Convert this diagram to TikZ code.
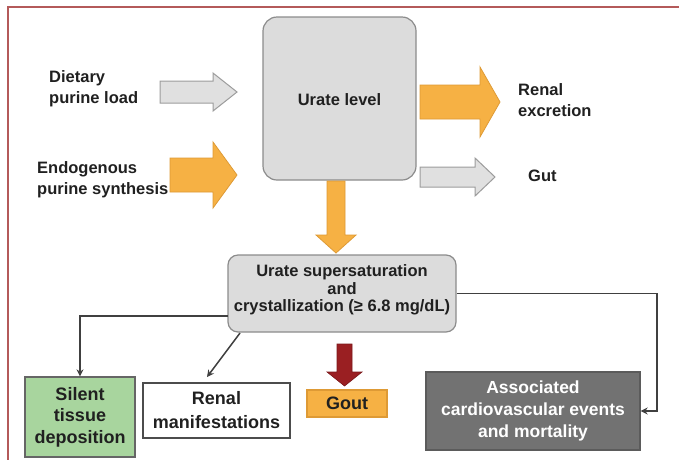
\documentclass[tikz,border=0pt]{standalone}
\usepackage{fontspec}
\setmainfont{Liberation Sans}
\usetikzlibrary{arrows.meta}
\definecolor{orangef}{HTML}{F6B144}
\definecolor{oranged}{HTML}{DE9A35}
\definecolor{grayf}{HTML}{E0E0E0}
\definecolor{grayd}{HTML}{9C9C9C}
\definecolor{boxf}{HTML}{DCDCDC}
\definecolor{boxd}{HTML}{8C8C8C}
\definecolor{greenf}{HTML}{A8D59E}
\definecolor{assocf}{HTML}{727272}
\definecolor{redf}{HTML}{9A1F22}
\definecolor{framec}{HTML}{B45A5A}
\definecolor{conncol}{HTML}{404040}
\definecolor{txt}{HTML}{202020}
\tikzset{
  lbl/.style={font=\bfseries\fontsize{16.5}{21}\selectfont, text=txt, align=left, inner sep=0pt},
  bigbox/.style={draw=boxd, fill=boxf, line width=1.2pt, inner sep=0pt},
  botbox/.style={font=\bfseries\fontsize{18}{21.5}\selectfont, text=txt, align=center, inner sep=0pt, line width=1.3pt},
  conn/.style={draw=conncol, line width=1.5pt, -{Stealth[length=7pt,width=7pt]}},
  orangearrow/.style={fill=orangef, draw=oranged, line width=0.8pt},
  grayarrow/.style={fill=grayf, draw=grayd, line width=1pt},
  redarrow/.style={fill=redf, draw=redf!80!black, line width=0.6pt}
}
% right-pointing block arrow: x0 x1 x2 yc halfshaft halfhead
\newcommand{\rblock}[7]{\filldraw[#1] (#2,#5-#6) -- (#3,#5-#6) -- (#3,#5-#7) -- (#4,#5) -- (#3,#5+#7) -- (#3,#5+#6) -- (#2,#5+#6) -- cycle;}
% down-pointing block arrow: style xc y0 y1 y2 halfshaft halfhead
\newcommand{\dblock}[7]{\filldraw[#1] (#2-#6,#3) -- (#2-#6,#4) -- (#2-#7,#4) -- (#2,#5) -- (#2+#7,#4) -- (#2+#6,#4) -- (#2+#6,#3) -- cycle;}
\begin{document}
\begin{tikzpicture}[x=1pt,y=-1pt]
\useasboundingbox (0,0) rectangle (679,459);
\fill[white] (0,0) rectangle (679,459);
\draw[framec, line width=1.2pt] (8,470) -- (8,7) -- (690,7);

% main boxes
\node[bigbox, rounded corners=14pt, minimum width=153pt, minimum height=163pt] (urate) at (339.5,98.5) {};
\node[font=\bfseries\fontsize{16.5}{21}\selectfont, text=txt, inner sep=0pt] (urateT) at (339.5,100) {Urate level};

\node[bigbox, rounded corners=10pt, minimum width=228pt, minimum height=77pt] (super) at (342,293.5) {};
\node[font=\bfseries\fontsize{16.5}{17.5}\selectfont, text=txt, align=center, inner sep=0pt] (superT) at (342,290) {Urate supersaturation\\and\\crystallization (≥ 6.8 mg/dL)};

% side labels
\node[lbl, anchor=west] (diet) at (49,89) {Dietary\\purine load};
\node[lbl, anchor=west] (endo) at (37,180) {Endogenous\\purine synthesis};
\node[lbl, anchor=west] (renex) at (518,100) {Renal\\excretion};
\node[lbl, anchor=west] (gut) at (528,176) {Gut};

% block arrows
\rblock{grayarrow}{160}{213}{237}{92}{11}{19}
\rblock{orangearrow}{170}{213}{237}{175}{17}{33}
\rblock{orangearrow}{420}{480}{500}{102}{17}{35}
\rblock{grayarrow}{420}{475}{495}{177}{10}{19}
\dblock{orangearrow}{336}{181}{235}{253}{9}{20}
\dblock{redarrow}{344.5}{344}{372}{386}{7.5}{17.5}

% bottom boxes
\node[botbox, draw=black!60, fill=greenf, minimum width=110pt, minimum height=80pt] (silent) at (80,417) {Silent\\tissue\\deposition};
\node[botbox, draw=black!70, fill=white, minimum width=147pt, minimum height=55pt, font=\bfseries\fontsize{18}{24}\selectfont] (renalm) at (216.5,410.5) {Renal\\manifestations};
\node[botbox, draw=oranged, fill=orangef, minimum width=80pt, minimum height=27pt] (gout) at (347,403.5) {Gout};
\node[botbox, draw=assocf!80!black, fill=assocf, text=white, minimum width=214pt, minimum height=78pt, font=\bfseries\fontsize{17.5}{22}\selectfont] (assoc) at (533,411) {Associated\\cardiovascular events\\and mortality};

% connectors
\coordinate (sl) at (228,316);
\draw[conn] (sl) -| (silent.north);
\coordinate (dstart) at (240,333);
\coordinate (dend) at (207,377);
\draw[conn] (dstart) -- (dend);
\coordinate (rc) at (657,293.5);
\draw[conn] (super.east) -- (rc) |- (assoc.east);
\end{tikzpicture}
\end{document}
